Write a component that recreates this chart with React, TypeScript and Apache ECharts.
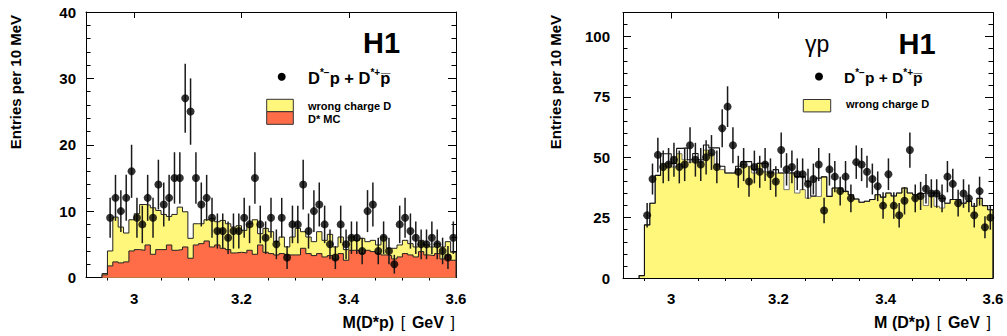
import React, { useEffect, useRef } from "react";
import * as echarts from "echarts";

// ---------- data ----------
const BIN_START = 2.94;
const BIN_WIDTH = 0.01;
const X_MIN = 2.91;
const X_MAX = 3.6;

const xMajorTicks = [3, 3.2, 3.4, 3.6];
const xTickLabels = ["3", "3.2", "3.4", "3.6"];
const xMinorTicks = [2.95, 3.05, 3.1, 3.15, 3.25, 3.3, 3.35, 3.45, 3.5, 3.55];

const leftYMajor = [0, 10, 20, 30, 40];
const leftYMinor = [2, 4, 6, 8, 12, 14, 16, 18, 22, 24, 26, 28, 32, 34, 36, 38];
const rightYMajor = [0, 25, 50, 75, 100];
const rightYMinor = [5, 10, 15, 20, 30, 35, 40, 45, 55, 60, 65, 70, 80, 85, 90, 95, 105];

// left panel: D*-p + D*+pbar data (per 10 MeV bin from 2.94)
const leftData = [
  null, 9, 12, 10, 12, 16, 9, 8, 12, 9, 14, 11, 12, 15, 15, 27, 25, 15, 11, 12, 9,
  7, 7, 6, 7, 7, 9, 8, 15, 8, 6, 9, 5, 9, 3, 8, 8, 14, 7, 10, 11, 8, 5, 3, 8, 5,
  6, 6, 4, 10, 11, 4, 6, 4, 2, 8, 9, 7, 6, 5, 5, 6, 5, 4, 3, 6,
];
// left panel: wrong charge D + D* MC (stacked total)
const leftTotal = [
  0.6, 4, 9.1, 7.6, 6.7, 8.7, 9.6, 11.0, 10.9, 10.5, 10.1, 9.5, 9.2, 9.5, 10.6, 9.9,
  5.9, 8.1, 8.1, 8.7, 8.9, 8.4, 8.6, 8.1, 7.6, 7.8, 7.1, 8.1, 8.7, 6.6, 7.4, 6.9,
  5.4, 6.1, 4.6, 6.1, 7.4, 6.9, 6.1, 5.4, 6.9, 5.6, 6.5, 4.6, 6.1, 4.2, 6.1, 5.6,
  5.9, 5.4, 5.6, 4.9, 6.1, 4.4, 4.4, 4.9, 5.6, 5.1, 4.6, 5.6, 4.9, 4.6, 5.1, 4.6,
  5.4, 3.8,
];
// left panel: D* MC
const leftMC = [
  0.4, 1.75, 2.35, 2.2, 2.35, 4.0, 4.2, 4.1, 4.9, 3.5, 4.2, 4.2, 4.9, 4.1, 4.2, 4.6,
  2.9, 4.9, 5.1, 5.5, 4.6, 4.9, 4.4, 4.2, 3.7, 3.8, 3.7, 4.1, 3.5, 4.9, 3.8, 3.6,
  3.4, 3.6, 3.4, 3.4, 3.4, 4.4, 3.6, 3.3, 3.6, 3.1, 3.3, 2.8, 3.6, 2.6, 4.1, 4.1,
  3.6, 4.1, 3.9, 3.6, 3.4, 3.3, 2.8, 3.1, 3.6, 3.4, 3.1, 3.9, 3.4, 3.3, 3.6, 2.8,
  3.4, 2.6,
];

// right panel: gamma p data
const rightData = [
  null, 26, 41, 51, 46, 47, 49, 46, 47, 55, 49, 47, 50, 52, 46, 62, 71, 55, 44, 47,
  40, 46, 44, 47, 43, 40, 53, 45, 46, 43, 43, 39, 41, 47, 28, 45, 42, 36, 42, 33,
  48, 47, 44, 41, 38, 30, 43, 30, 26, 32, 53, 33, 34, 37, 35, 35, 33, 42, 39, 31,
  35, 33, 26, 36, 21, 25,
];
// right panel: wrong charge D (filled)
const rightWrong = [
  1, 22, 31, 42.5, 47.5, 47.5, 46, 51.5, 49, 48, 49, 48, 53, 51.5, 47, 44.9, 43.5,
  43.5, 45, 47, 46.3, 43.5, 47.5, 44, 43.5, 43.5, 43.5, 36.6, 43.5, 35.2, 36.6,
  33.1, 33.8, 33.8, 41.9, 33.8, 37.3, 37.3, 35.9, 34.5, 32.7, 31.4, 31.8, 32.5,
  34.5, 33.5, 35.2, 34, 35.2, 37.3, 35.2, 34.5, 35, 30, 34, 29.7, 29, 31, 32.5,
  32.5, 31, 31.8, 29.7, 33, 30, 28.3,
];
// right panel: outline histogram
const rightOutline = [
  1, 22, 31, 42.5, 51.5, 51.5, 47.5, 53.7, 53.9, 49, 51.6, 49, 55.1, 53.9, 53.9,
  46.3, 43.5, 43.5, 46.3, 48.2, 48.2, 45, 47.5, 47.5, 43.5, 44.9, 43.5, 43.5, 43.5,
  42, 42, 40, 34, 41.4, 41.9, 33.8, 37.3, 37.3, 35.9, 34.5, 32.7, 31.4, 31.8, 32.5,
  34.5, 33.5, 35.2, 34, 35.2, 37.3, 35.2, 34.5, 35, 35.2, 35.2, 35.2, 33, 31, 32.5,
  32.5, 31, 31.8, 29.7, 33, 30, 28.3,
];

// ---------- style ----------
const FONT = "'Liberation Sans', Arial, Helvetica, sans-serif";
const YELLOW = "#FFF77B";
const RED = "#FF6C48";

function histPoints(values: number[]) {
  const pts: number[][] = [[BIN_START, 0]];
  values.forEach((v, i) => pts.push([BIN_START + i * BIN_WIDTH, v]));
  const end = BIN_START + values.length * BIN_WIDTH;
  pts.push([end, values[values.length - 1]]);
  pts.push([end, 0]);
  return pts;
}

function dataPoints(values: (number | null)[]) {
  const out: number[][] = [];
  values.forEach((v, i) => {
    if (v !== null && v !== undefined) out.push([BIN_START + (i + 0.5) * BIN_WIDTH, v, Math.sqrt(v)]);
  });
  return out;
}

function xAxes(g: number) {
  const common = { gridIndex: g, type: "value", min: X_MIN, max: X_MAX, splitLine: { show: false } };
  return [
    {
      ...common,
      position: "bottom",
      axisLine: { show: true, onZero: false, lineStyle: { color: "#000", width: 1 } },
      axisTick: { show: true, inside: true, length: 6, customValues: xMajorTicks, lineStyle: { color: "#000" } },
      axisLabel: {
        show: true,
        customValues: xMajorTicks,
        formatter: (v: number) => xTickLabels[xMajorTicks.findIndex((t) => Math.abs(t - v) < 1e-6)] ?? String(v),
        fontFamily: FONT,
        fontWeight: "bold",
        fontSize: 15,
        color: "#000",
        margin: 13,
      },
    },
    {
      ...common,
      position: "bottom",
      axisLine: { show: false },
      axisTick: { show: true, inside: true, length: 3, customValues: xMinorTicks, lineStyle: { color: "#000" } },
      axisLabel: { show: false },
    },
    {
      ...common,
      position: "top",
      axisLine: { show: true, onZero: false, lineStyle: { color: "#000", width: 1 } },
      axisTick: { show: true, inside: true, length: 6, customValues: xMajorTicks, lineStyle: { color: "#000" } },
      axisLabel: { show: false },
    },
    {
      ...common,
      position: "top",
      axisLine: { show: false },
      axisTick: { show: true, inside: true, length: 3, customValues: xMinorTicks, lineStyle: { color: "#000" } },
      axisLabel: { show: false },
    },
  ];
}

function yAxes(g: number, max: number, major: number[], minor: number[], margin: number) {
  const common = { gridIndex: g, type: "value", min: 0, max, splitLine: { show: false } };
  return [
    {
      ...common,
      position: "left",
      axisLine: { show: true, onZero: false, lineStyle: { color: "#000", width: 1 } },
      axisTick: { show: true, inside: true, length: 8, customValues: major, lineStyle: { color: "#000" } },
      axisLabel: {
        show: true,
        customValues: major,
        fontFamily: FONT,
        fontWeight: "bold",
        fontSize: 15,
        color: "#000",
        margin,
      },
    },
    {
      ...common,
      position: "left",
      axisLine: { show: false },
      axisTick: { show: true, inside: true, length: 4.5, customValues: minor, lineStyle: { color: "#000" } },
      axisLabel: { show: false },
    },
    {
      ...common,
      position: "right",
      axisLine: { show: true, onZero: false, lineStyle: { color: "#000", width: 1 } },
      axisTick: { show: true, inside: true, length: 8, customValues: major, lineStyle: { color: "#000" } },
      axisLabel: { show: false },
    },
    {
      ...common,
      position: "right",
      axisLine: { show: false },
      axisTick: { show: true, inside: true, length: 4.5, customValues: minor, lineStyle: { color: "#000" } },
      axisLabel: { show: false },
    },
  ];
}

function stepSeries(values: number[], xi: number, yi: number, fill: string | null, lineColor: string, lw: number, z: number) {
  const s: any = {
    type: "line",
    xAxisIndex: xi,
    yAxisIndex: yi,
    step: "end",
    symbol: "none",
    showSymbol: false,
    data: histPoints(values),
    lineStyle: { color: lineColor, width: lw },
    z,
    silent: true,
  };
  if (fill) s.areaStyle = { color: fill, opacity: 1 };
  return s;
}

function errorSeries(values: (number | null)[], xi: number, yi: number) {
  return {
    type: "custom",
    xAxisIndex: xi,
    yAxisIndex: yi,
    z: 10,
    data: dataPoints(values),
    encode: { x: 0, y: 1 },
    renderItem: (_p: any, api: any) => {
      const x = api.value(0);
      const y = api.value(1);
      const e = api.value(2);
      const a = api.coord([x, Math.max(0, y - e)]);
      const b = api.coord([x, y + e]);
      return {
        type: "line",
        shape: { x1: a[0], y1: a[1], x2: b[0], y2: b[1] },
        style: { stroke: "#1a1a1a", lineWidth: 1.5 },
      };
    },
  };
}

function scatterSeries(values: (number | null)[], xi: number, yi: number) {
  return {
    type: "scatter",
    xAxisIndex: xi,
    yAxisIndex: yi,
    z: 11,
    symbol: "circle",
    symbolSize: 8,
    itemStyle: { color: "#000" },
    data: dataPoints(values).map((d) => [d[0], d[1]]),
  };
}

const legendRich = (size: number) => ({
  b: { fontFamily: FONT, fontWeight: "bold", fontSize: size, lineHeight: size + 2, verticalAlign: "bottom", color: "#000" },
  s: { fontFamily: FONT, fontWeight: "bold", fontSize: Math.round(size * 0.62), lineHeight: Math.round(size * 0.62), verticalAlign: "top", color: "#000" },
});

const axisTitleRich = {
  b: { fontFamily: FONT, fontWeight: "bold", fontSize: 16, color: "#000" },
  l: { fontFamily: FONT, fontWeight: "normal", fontSize: 16, color: "#444" },
};

export default function App() {
  const ref = useRef<HTMLDivElement>(null);

  useEffect(() => {
    if (!ref.current) return;
    const chart = echarts.init(ref.current, null, { renderer: "svg" });

    const option: any = {
      animation: false,
      backgroundColor: "#fff",
      grid: [
        { left: 86, top: 12, width: 370, height: 265.5 },
        { left: 623, top: 12.5, width: 370, height: 265.5 },
      ],
      xAxis: [...xAxes(0), ...xAxes(1)],
      yAxis: [
        ...yAxes(0, 40, leftYMajor, leftYMinor, 10),
        ...yAxes(1, 110, rightYMajor, rightYMinor, 13),
      ],
      series: [
        stepSeries(leftTotal, 0, 0, YELLOW, "#222", 1, 2),
        stepSeries(leftMC, 0, 0, RED, "#222", 1, 3),
        errorSeries(leftData, 0, 0),
        scatterSeries(leftData, 0, 0),
        stepSeries(rightWrong, 4, 4, YELLOW, "#555", 0.8, 2),
        stepSeries(rightOutline, 4, 4, null, "#111", 1.1, 3),
        errorSeries(rightData, 4, 4),
        scatterSeries(rightData, 4, 4),
      ],
      graphic: [
        // y-axis titles
        {
          type: "text", x: 15, y: 15, rotation: Math.PI / 2,
          style: { text: "Entries per 10 MeV", fontFamily: FONT, fontWeight: "bold", fontSize: 15, fill: "#000", align: "right", verticalAlign: "middle" },
        },
        {
          type: "text", x: 555, y: 15, rotation: Math.PI / 2,
          style: { text: "Entries per 10 MeV", fontFamily: FONT, fontWeight: "bold", fontSize: 15, fill: "#000", align: "right", verticalAlign: "middle" },
        },
        // x-axis titles
        {
          type: "text", x: 455, y: 322,
          style: { text: "{b|M(D*p)}  {l|[}  {b|GeV}  {l|]}", rich: axisTitleRich, align: "right", verticalAlign: "middle" },
        },
        {
          type: "text", x: 991, y: 322,
          style: { text: "{b|M (D*p)}  {l|[}  {b|GeV}  {l|]}", rich: axisTitleRich, align: "right", verticalAlign: "middle" },
        },
        // H1 labels
        {
          type: "text", x: 381.5, y: 43,
          style: { text: "H1", fontFamily: FONT, fontWeight: "bold", fontSize: 29, fill: "#000", align: "center", verticalAlign: "middle" },
        },
        {
          type: "text", x: 917, y: 43.5,
          style: { text: "H1", fontFamily: FONT, fontWeight: "bold", fontSize: 29, fill: "#000", align: "center", verticalAlign: "middle" },
        },
        {
          type: "text", x: 805, y: 44,
          style: { text: "γp", fontFamily: FONT, fontWeight: "normal", fontSize: 23, fill: "#000", align: "left", verticalAlign: "middle" },
        },
        // left legend
        { type: "circle", shape: { cx: 281.7, cy: 76.7, r: 4 }, style: { fill: "#000" } },
        {
          type: "text", x: 308, y: 77,
          style: { text: "{b|D}{s|*−}{b|p + D}{s|*+}{b|p\u0305}", rich: legendRich(16.5), align: "left", verticalAlign: "middle" },
        },
        { type: "rect", shape: { x: 266.7, y: 99.3, width: 26.6, height: 12.4 }, style: { fill: YELLOW, stroke: "#333", lineWidth: 1 } },
        { type: "rect", shape: { x: 266.7, y: 111.7, width: 26.6, height: 12.6 }, style: { fill: RED, stroke: "#333", lineWidth: 1 } },
        {
          type: "text", x: 308, y: 106,
          style: { text: "wrong charge D", fontFamily: FONT, fontWeight: "bold", fontSize: 11, fill: "#000", align: "left", verticalAlign: "middle" },
        },
        {
          type: "text", x: 308, y: 118.5,
          style: { text: "D* MC", fontFamily: FONT, fontWeight: "bold", fontSize: 11, fill: "#000", align: "left", verticalAlign: "middle" },
        },
        // right legend
        { type: "circle", shape: { cx: 819, cy: 76.5, r: 4 }, style: { fill: "#000" } },
        {
          type: "text", x: 844, y: 76.5,
          style: { text: "{b|D}{s|*−}{b|p + D}{s|*+}{b|p\u0305}", rich: legendRich(15.5), align: "left", verticalAlign: "middle" },
        },
        { type: "rect", shape: { x: 803.3, y: 99.5, width: 27.4, height: 12.4 }, style: { fill: YELLOW, stroke: "#333", lineWidth: 1 } },
        {
          type: "text", x: 846, y: 104,
          style: { text: "wrong charge D", fontFamily: FONT, fontWeight: "bold", fontSize: 11, fill: "#000", align: "left", verticalAlign: "middle" },
        },
      ],
    };

    chart.setOption(option);
    return () => chart.dispose();
  }, []);

  return <div ref={ref} style={{ position: "absolute", left: 0, top: 0, width: 1007, height: 336 }} />;
}
